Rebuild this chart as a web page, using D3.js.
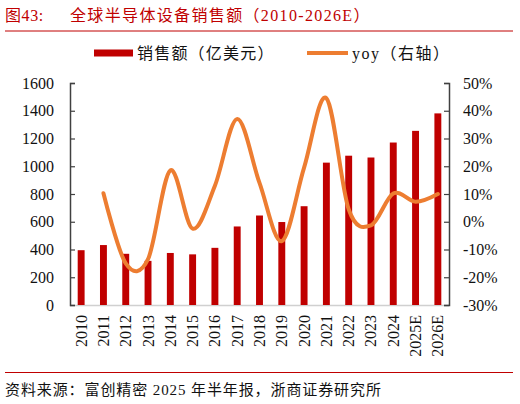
<!DOCTYPE html>
<html><head><meta charset="utf-8">
<script src="https://cdn.jsdelivr.net/npm/d3@7"></script>
<style>
body{margin:0;background:#fff;}
svg{display:block;}
</style></head>
<body><svg id="c" width="520" height="404"></svg>
<script>
const years = ["2010","2011","2012","2013","2014","2015","2016","2017","2018","2019","2020","2021","2022","2023","2024","2025E","2026E"];
const sales = [395,432,369,318,375,365,412,566,645,598,712,1026,1076,1063,1171,1255,1381];
const yoyYears = ["2011","2012","2013","2014","2015","2016","2017","2018","2019","2020","2021","2022","2023","2024","2025E","2026E"];
const yoy = [10.3,-15,-13.5,18.5,-2.5,13,37,14,-7,19.5,44.5,4.5,-1.3,10.2,7.2,10];
const leftTicks = [0,200,400,600,800,1000,1200,1400,1600];
const rightTicks = [-30,-20,-10,0,10,20,30,40,50];

const RED = "#C00000", ORANGE = "#ED7D31";
const SERIF = "'Liberation Serif','Times New Roman','Noto Sans CJK SC',serif";
const svg = d3.select("#c");

const L = 70, R = 449, T = 83, B = 305;
const x = d3.scaleBand().domain(years).range([L, R]).paddingInner(0.69).paddingOuter(0.345);
const yL = d3.scaleLinear().domain([0,1600]).range([B, T]);
const yR = d3.scaleLinear().domain([-30,50]).range([B, T]);

// title
svg.append("text").attr("x",5).attr("y",21).attr("fill",RED)
  .style("font-family",SERIF).style("font-size","16px").style("letter-spacing","0.6px").text("图43:");
svg.append("text").attr("x",70).attr("y",21).attr("fill",RED)
  .style("font-family",SERIF).style("font-size","16px").style("letter-spacing","1.35px").text("全球半导体设备销售额（2010-2026E）");
svg.append("line").attr("x1",5).attr("x2",513).attr("y1",31).attr("y2",31).attr("stroke",RED).attr("stroke-width",1);

// legend
svg.append("rect").attr("x",94).attr("y",49.5).attr("width",39).attr("height",7).attr("fill",RED);
svg.append("text").attr("x",137).attr("y",58.5).attr("fill","#111")
  .style("font-family",SERIF).style("font-size","16px").style("letter-spacing","1.2px").text("销售额（亿美元）");
svg.append("line").attr("x1",307).attr("x2",348).attr("y1",53).attr("y2",53).attr("stroke",ORANGE).attr("stroke-width",4);
svg.append("text").attr("x",352).attr("y",58.5).attr("fill","#111")
  .style("font-family",SERIF).style("font-size","16px").style("letter-spacing","1.5px").text("yoy（右轴）");

// bottom axis line
svg.append("line").attr("x1",L).attr("x2",R).attr("y1",B+0.5).attr("y2",B+0.5).attr("stroke","#d0d0d0").attr("stroke-width",1.5);

// bars
svg.append("g").selectAll("rect").data(years.map((y,i)=>({y,v:sales[i]}))).join("rect")
  .attr("x",d=>x(d.y)).attr("width",x.bandwidth())
  .attr("y",d=>yL(d.v)).attr("height",d=>B-yL(d.v)).attr("fill",RED);

// left axis
const gl = svg.append("g").attr("transform",`translate(${L},0)`)
  .call(d3.axisLeft(yL).tickValues(leftTicks).tickSize(-5).tickPadding(16).tickFormat(d3.format("d")));
gl.select(".domain").attr("stroke","#404040").attr("stroke-width",1.5);
gl.selectAll(".tick line").attr("stroke","#404040").attr("stroke-width",1.2);
gl.selectAll("text").style("font-family",SERIF).style("font-size","16px").attr("fill","#111");

// right axis
const gr = svg.append("g").attr("transform",`translate(${R},0)`)
  .call(d3.axisRight(yR).tickValues(rightTicks).tickSize(-5).tickPadding(14).tickFormat(d=>d+"%"));
gr.select(".domain").attr("stroke","#404040").attr("stroke-width",1.5);
gr.selectAll(".tick line").attr("stroke","#404040").attr("stroke-width",1.2);
gr.selectAll("text").style("font-family",SERIF).style("font-size","16px").attr("fill","#111");

// x labels
svg.append("g").selectAll("text").data(years).join("text")
  .attr("transform",d=>`translate(${x(d)+x.bandwidth()/2+5.5},315) rotate(-90)`)
  .attr("text-anchor","end")
  .style("font-family",SERIF).style("font-size","16px").attr("fill","#111").text(d=>d);

// yoy line
const line = d3.line().x(d=>x(d.y)+x.bandwidth()/2).y(d=>yR(d.v)).curve(d3.curveCardinal.tension(0));
svg.append("path").datum(yoyYears.map((y,i)=>({y,v:yoy[i]})))
  .attr("d",line).attr("fill","none").attr("stroke",ORANGE).attr("stroke-width",4).attr("stroke-linecap","round");

// footer
svg.append("line").attr("x1",5).attr("x2",513).attr("y1",372.5).attr("y2",372.5).attr("stroke",RED).attr("stroke-width",1);
svg.append("text").attr("x",5).attr("y",395).attr("fill","#111")
  .style("font-family",SERIF).style("font-size","15px").style("letter-spacing","0.9px").text("资料来源：富创精密 2025 年半年报，浙商证券研究所");
</script></body></html>
